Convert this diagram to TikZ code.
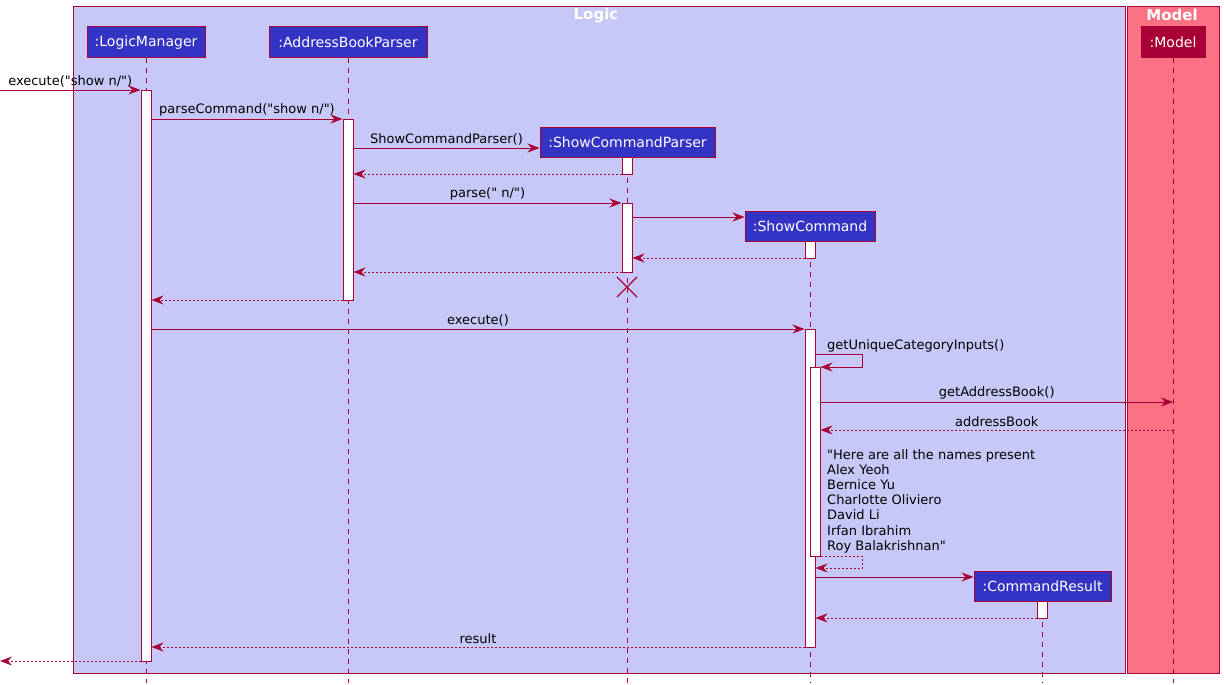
\documentclass[tikz,border=0pt]{standalone}
\usepackage{fontspec}
\setmainfont{DejaVu Sans}[Ligatures=TeXOff]
\usetikzlibrary{arrows.meta}
\definecolor{crim}{HTML}{A80036}
\definecolor{partblue}{HTML}{3434C4}
\definecolor{logicbg}{HTML}{C8C8F8}
\definecolor{modelbg}{HTML}{FB7285}
\newcommand{\qd}{\symbol{34}}
\tikzset{
  frame/.style={draw=crim, line width=1pt},
  ftitle/.style={text=white, font=\fontsize{15}{17}\selectfont\bfseries, inner sep=0pt},
  part/.style={draw=crim, fill=partblue, text=white, line width=1pt, inner sep=0pt,
    minimum height=31pt, font=\fontsize{14}{16}\selectfont},
  life/.style={crim, line width=0.8pt, dash pattern=on 5pt off 5pt},
  act/.style={draw=crim, fill=white, line width=1pt, minimum width=10pt, inner sep=0pt, anchor=north},
  msg/.style={crim, line width=0.9pt, -{Stealth[length=12pt,width=9pt,inset=4pt]}},
  ret/.style={msg, dash pattern=on 2pt off 2pt},
  lbl/.style={above, inner sep=2.5pt, text=black},
}
\begin{document}
\begin{tikzpicture}[x=1pt,y=-1pt,font=\fontsize{13}{15.2}\selectfont]
\useasboundingbox (0,0) rectangle (1224,685);
\fill[white] (0,0) rectangle (1224,685);
% frames
\draw[frame, fill=logicbg] (73,7) rectangle (1125,673);
\node[ftitle] (tlogic) at (596,15) {Logic};
\draw[frame, fill=modelbg] (1127,7) rectangle (1219,673);
\node[ftitle] (tmodel) at (1172,15) {Model};
% participants
\node[part, minimum width=118pt] (lm) at (146,42.5) {:LogicManager};
\node[part, minimum width=158pt] (abp) at (348,42.5) {:AddressBookParser};
\node[part, minimum width=64pt, fill=crim] (mod) at (1173,42.5) {:Model};
\node[part, minimum width=175pt, minimum height=30pt] (scp) at (627.5,142) {:ShowCommandParser};
\node[part, minimum width=130pt, minimum height=30pt] (sc) at (810,226) {:ShowCommand};
\node[part, minimum width=137pt, minimum height=30pt] (cr) at (1042.5,586) {:CommandResult};
% lifelines
\coordinate (bot) at (0,683);
\draw[life] (lm.south) -- (lm.south |- bot);
\draw[life] (abp.south) -- (abp.south |- bot);
\draw[life] (mod.south) -- (mod.south |- bot);
\draw[life] (scp.south) -- (scp.south |- bot);
\draw[life] (sc.south) -- (sc.south |- bot);
\draw[life] (cr.south) -- (cr.south |- bot);
% activations
\node[act, minimum height=571pt] (a1) at (146,90) {};
\node[act, minimum height=181pt] (a2) at (348,119) {};
\node[act, minimum height=17pt] (a3) at (627,157) {};
\node[act, minimum height=69pt] (a4) at (627,203) {};
\node[act, minimum height=17pt] (a5) at (810,241) {};
\node[act, minimum height=318pt] (a6) at (810,329) {};
\node[act, minimum height=189pt] (a7) at (815,367) {};
\node[act, minimum height=17pt] (a8) at (1042,601) {};
% messages
\coordinate (in) at (0,90);
\draw[msg] (in) -- (a1.west |- in) node[lbl, midway] {execute(\qd show n/\qd)};
\draw[msg] (a1.east |- 0,119) -- (a2.west |- 0,119) node[lbl, midway] {parseCommand(\qd show n/\qd)};
\draw[msg] (a2.east |- 0,148) -- (scp.west |- 0,148) node[lbl, midway] {ShowCommandParser()};
\draw[ret] (a3.west |- 0,174) -- (a2.east |- 0,174);
\draw[msg] (a2.east |- 0,203) -- (a4.west |- 0,203) node[lbl, midway] {parse(\qd\ n/\qd)};
\draw[msg] (a4.east |- 0,217) -- (sc.west |- 0,217);
\draw[ret] (a5.west |- 0,258) -- (a4.east |- 0,258);
\draw[ret] (a4.west |- 0,272) -- (a2.east |- 0,272);
\draw[crim, line width=1.3pt] (617,277) -- (637,297) (617,297) -- (637,277);
\draw[ret] (a2.west |- 0,300) -- (a1.east |- 0,300);
\draw[msg] (a1.east |- 0,329) -- (a6.west |- 0,329) node[lbl, midway] {execute()};
\draw[msg] (a6.east |- 0,354) -- (862,354) -- (862,367) -- (a7.east |- 0,367);
\node[anchor=base west, inner sep=0pt] (lguc) at (827,349) {getUniqueCategoryInputs()};
\draw[msg] (a7.east |- 0,402) -- (mod.south |- 0,402) node[lbl, midway] {getAddressBook()};
\draw[ret] (mod.south |- 0,430) -- (a7.east |- 0,430) node[lbl, midway] {addressBook};
\node[anchor=north west, align=left, inner sep=0pt] (lnames) at (827,449)
  {\qd Here are all the names present\\Alex Yeoh\\Bernice Yu\\Charlotte Oliviero\\David Li\\Irfan Ibrahim\\Roy Balakrishnan\qd};
\draw[ret] (a7.east |- 0,556) -- (862,556) -- (862,568) -- (a6.east |- 0,568);
\draw[msg] (a6.east |- 0,577) -- (cr.west |- 0,577);
\draw[ret] (a8.west |- 0,618) -- (a6.east |- 0,618);
\draw[ret] (a6.west |- 0,647) -- (a1.east |- 0,647) node[lbl, midway] {result};
\coordinate (out) at (0,661);
\draw[ret] (a1.west |- out) -- (out);
\end{tikzpicture}
\end{document}
